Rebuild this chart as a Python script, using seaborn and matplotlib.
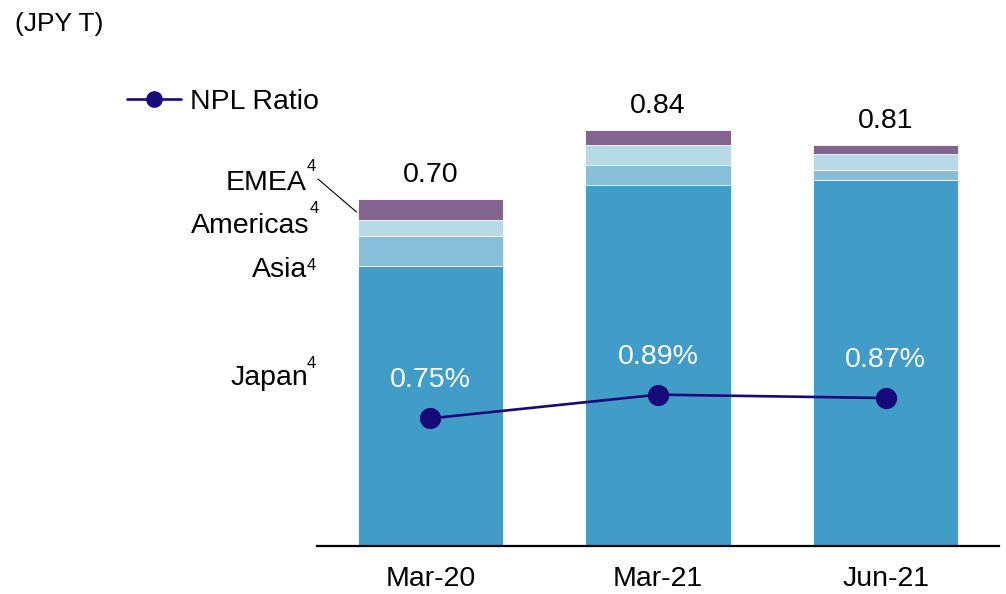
import matplotlib
matplotlib.use("Agg")
import matplotlib.pyplot as plt
from matplotlib.lines import Line2D
import numpy as np
import pandas as pd
import seaborn as sns

# ---- data -------------------------------------------------------------
periods = ["Mar-20", "Mar-21", "Jun-21"]
japan = [0.565, 0.728, 0.738]
asia = [0.060, 0.040, 0.020]
americas = [0.032, 0.042, 0.032]
emea = [0.043, 0.030, 0.020]
totals = [0.70, 0.84, 0.81]
npl_ratio = [0.75, 0.89, 0.87]
npl_labels = ["0.75%", "0.89%", "0.87%"]
segment_names = ["Japan", "Asia", "Americas", "EMEA"]

# ---- styling ----------------------------------------------------------
sns.set_theme(style="white")
plt.rcParams["font.family"] = ["Liberation Sans", "DejaVu Sans"]
plt.rcParams["text.color"] = "black"

colors = {
    "Japan": "#429CC8",
    "Asia": "#87BFDA",
    "Americas": "#B6DAEA",
    "EMEA": "#83638F",
}
line_color = "#16097A"
FS = 20.5

W, H = 1006, 594
fig = plt.figure(figsize=(W / 100, H / 100), dpi=100)

ax_left, ax_right = 316.7, 999.3
ax_bottom, ax_top = 545.5, 60.0
ax = fig.add_axes([ax_left / W, 1 - ax_bottom / H,
                   (ax_right - ax_left) / W, (ax_bottom - ax_top) / H])

df = pd.DataFrame({"period": periods, "Japan": japan, "Asia": asia,
                   "Americas": americas, "EMEA": emea})
cum = df[segment_names].cumsum(axis=1)

# stacked bars: draw cumulative heights from the top segment downwards
for seg in reversed(segment_names):
    sns.barplot(x=df["period"], y=cum[seg], order=periods, color=colors[seg],
                width=0.64, edgecolor="white", linewidth=0.6,
                saturation=1, ax=ax)

ax_h_px = ax_bottom - ax_top
ax.set_ylim(0, ax_h_px / 495.0)
ax.set_xlim(-0.5, 2.5)

for i, t in enumerate(totals):
    ax.annotate(f"{t:.2f}", xy=(i, cum["EMEA"][i]), xytext=(0, 12.2),
                textcoords="offset points", ha="center", va="baseline",
                fontsize=FS, color="black")

for s in ["left", "right", "top"]:
    ax.spines[s].set_visible(False)
ax.spines["bottom"].set_color("black")
ax.spines["bottom"].set_linewidth(1.6)
ax.set_yticks([])
ax.set_xlabel("")
ax.set_ylabel("")
ax.tick_params(axis="x", length=0, pad=14.5, labelsize=20.5,
               colors="black")

# NPL ratio on a secondary scale
ax2 = ax.twinx()
npl_df = pd.DataFrame({"x": [0, 1, 2], "npl": npl_ratio})
sns.lineplot(data=npl_df, x="x", y="npl", ax=ax2, color=line_color,
             linewidth=1.9, marker="o", markersize=14.5,
             markerfacecolor=line_color, markeredgecolor=line_color,
             sort=False, label="NPL Ratio", legend=False)
ax2.set_ylim(0, ax_h_px / 169.5)
ax2.set_xlim(-0.5, 2.5)
ax2.set_yticks([])
ax2.set_ylabel("")
for s in ax2.spines.values():
    s.set_visible(False)

for i, (v, lab) in enumerate(zip(npl_ratio, npl_labels)):
    ax2.annotate(lab, xy=(i, v), xytext=(0, 22.3), textcoords="offset points",
                 ha="center", va="baseline", fontsize=FS, color="white")

# legend
handle = Line2D([0], [0], color=line_color, linewidth=1.9, marker="o",
                markersize=11, markerfacecolor=line_color,
                markeredgecolor=line_color)
fig.legend([handle], ["NPL Ratio"], loc="center left",
           bbox_to_anchor=(127 / W, 1 - 102 / H), frameon=False,
           fontsize=FS, handlelength=1.9, handletextpad=0.3,
           borderpad=0, borderaxespad=0, labelcolor="black")

# unit label
fig.text(15 / W, 1 - 31 / H, "(JPY T)", fontsize=19, color="black",
         ha="left", va="baseline")

# region labels with footnote markers
region_labels = [
    ("EMEA", 306.7, 190.0, 306.7, 171.0),
    ("Americas", 309.0, 233.0, 309.5, 213.0),
    ("Asia", 306.7, 276.7, 306.7, 270.0),
    ("Japan", 308.0, 385.0, 306.5, 368.0),
]
for name, rx, by, sx, sy in region_labels:
    fig.text(rx / W, 1 - by / H, name, fontsize=FS, color="black",
             ha="right", va="baseline")
    fig.text(sx / W, 1 - sy / H, "4", fontsize=12, color="black",
             ha="left", va="baseline")

# leader line from the EMEA label to its segment
fig.add_artist(Line2D([318 / W, 356.5 / W], [1 - 179 / H, 1 - 212 / H],
                      transform=fig.transFigure, color="black",
                      linewidth=0.8))

fig.savefig("out.png", dpi=100)
